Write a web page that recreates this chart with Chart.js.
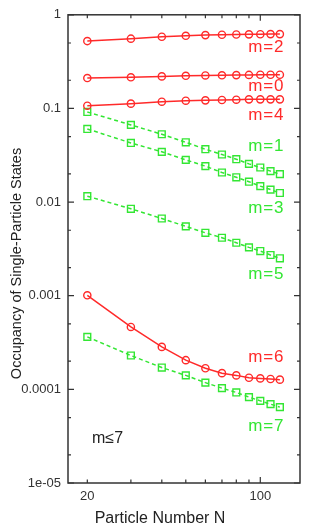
<!DOCTYPE html>
<html>
<head>
<meta charset="utf-8">
<script src="https://cdn.jsdelivr.net/npm/chart.js@4.4.1/dist/chart.umd.min.js"></script>
<style>
html,body{margin:0;padding:0;background:#fff;}
#wrap{width:312px;height:531px;position:relative;}
</style>
</head>
<body>
<div id="wrap"><canvas id="c" width="312" height="531"></canvas></div>
<script>
// ---- data ----
const N = [20, 30, 40, 50, 60, 70, 80, 90, 100, 110, 120];
const m2 = [0.524, 0.556, 0.583, 0.597, 0.607, 0.612, 0.616, 0.618, 0.620, 0.622, 0.622];
const m0 = [0.211, 0.215, 0.220, 0.223, 0.225, 0.226, 0.227, 0.228, 0.229, 0.229, 0.229];
const m4 = [0.107, 0.1125, 0.118, 0.121, 0.122, 0.123, 0.124, 0.125, 0.125, 0.125, 0.125];
const m6 = [0.00101, 0.000464, 0.000284, 0.000205, 0.000168, 0.000149, 0.000141, 0.000133, 0.000131, 0.000129, 0.000127];
const m1 = [0.0917, 0.0667, 0.0530, 0.0435, 0.0367, 0.0322, 0.0287, 0.0256, 0.0234, 0.0214, 0.0199];
const m3 = [0.0604, 0.0428, 0.0344, 0.0282, 0.0242, 0.0207, 0.0184, 0.0165, 0.0148, 0.0136, 0.0125];
const m5 = [0.01156, 0.00848, 0.00668, 0.0055, 0.0047, 0.00416, 0.00368, 0.00328, 0.0030, 0.00272, 0.00251];
const m7 = [0.000363, 0.00023, 0.000171, 0.000141, 0.000118, 0.000103, 0.0000927, 0.0000826, 0.0000754, 0.0000695, 0.0000646];

const xTickLabels = [20, 100];
const xTickMarks = [20, 30, 40, 50, 60, 70, 80, 90, 100];
const yTickLabels = [1, 0.1, 0.01, 0.001, 0.0001, 0.00001];
const yTickTexts = ['1', '0.1', '0.01', '0.001', '0.0001', '1e-05'];
const yMinorMarks = [0.5, 0.2, 0.05, 0.02, 0.005, 0.002, 0.0005, 0.0002, 0.00005, 0.00002];

const seriesNames = ['m=2', 'm=0', 'm=4', 'm=6', 'm=1', 'm=3', 'm=5', 'm=7'];
const seriesOdd = [false, false, false, false, true, true, true, true];
const seriesValues = [m2, m0, m4, m6, m1, m3, m5, m7];
// annotation anchors (data coords) for the curve labels
const labelN = 124;
const labelValues = [0.445, 0.171, 0.0853, 0.000222, 0.0394, 0.0086, 0.0017, 0.0000405];
const noteText = 'm≤7';
const noteN = 20.9;
const noteValue = 0.00003;

const xTitle = 'Particle Number N';
const yTitle = 'Occupancy of Single-Particle States';

// ---- styles ----
const RED = '#ff2a2a';
const GREEN = '#33e633';
const AXIS = '#333333';
const FONT = "'Liberation Sans', Arial, sans-serif";

const datasets = seriesNames.map((name, i) => ({
  label: name,
  data: N.map((n, j) => ({x: n, y: seriesValues[i][j]})),
  borderColor: seriesOdd[i] ? GREEN : RED,
  backgroundColor: 'rgba(0,0,0,0)',
  borderWidth: 1.5,
  borderDash: seriesOdd[i] ? [4, 3] : [],
  pointStyle: seriesOdd[i] ? 'rect' : 'circle',
  pointRadius: seriesOdd[i] ? 4.8 : 3.6,
  pointBorderWidth: 1.4,
  pointBorderColor: seriesOdd[i] ? GREEN : RED,
  pointBackgroundColor: 'rgba(0,0,0,0)',
  tension: 0,
  fill: false
}));

const decor = {
  id: 'decor',
  afterDraw(chart) {
    const ctx = chart.ctx;
    const a = chart.chartArea;
    const xs = chart.scales.x, ys = chart.scales.y;
    ctx.save();
    // frame
    ctx.strokeStyle = AXIS;
    ctx.lineWidth = 1.5;
    ctx.strokeRect(a.left, a.top, a.right - a.left, a.bottom - a.top);
    // x ticks (inside, bottom & top)
    ctx.lineWidth = 1.2;
    ctx.beginPath();
    xTickMarks.forEach(v => {
      const px = xs.getPixelForValue(v);
      const len = (v === 100) ? 6 : 3.5;
      ctx.moveTo(px, a.bottom); ctx.lineTo(px, a.bottom - len);
      ctx.moveTo(px, a.top); ctx.lineTo(px, a.top + len);
    });
    // y ticks (inside, left & right)
    yTickLabels.forEach(v => {
      const py = ys.getPixelForValue(v);
      ctx.moveTo(a.left, py); ctx.lineTo(a.left + 6, py);
      ctx.moveTo(a.right, py); ctx.lineTo(a.right - 6, py);
    });
    yMinorMarks.forEach(v => {
      const py = ys.getPixelForValue(v);
      ctx.moveTo(a.left, py); ctx.lineTo(a.left + 3, py);
      ctx.moveTo(a.right, py); ctx.lineTo(a.right - 3, py);
    });
    ctx.stroke();

    // curve labels
    ctx.font = '17px ' + FONT;
    ctx.textAlign = 'right';
    ctx.textBaseline = 'middle';
    if ('letterSpacing' in ctx) ctx.letterSpacing = '0.8px';
    seriesNames.forEach((name, i) => {
      ctx.fillStyle = seriesOdd[i] ? GREEN : RED;
      ctx.fillText(name, xs.getPixelForValue(labelN) + 0.8, ys.getPixelForValue(labelValues[i]));
    });
    if ('letterSpacing' in ctx) ctx.letterSpacing = '0px';
    ctx.fillStyle = '#222';
    ctx.font = '16px ' + FONT;
    ctx.textAlign = 'left';
    ctx.fillText(noteText, xs.getPixelForValue(noteN), ys.getPixelForValue(noteValue));

    // axis titles
    ctx.fillStyle = '#222';
    ctx.font = '16px ' + FONT;
    ctx.textAlign = 'center';
    ctx.textBaseline = 'alphabetic';
    ctx.fillText(xTitle, 160, 523);
    ctx.translate(20.7, 263.5);
    ctx.rotate(-Math.PI / 2);
    ctx.font = '14.5px ' + FONT;
    ctx.fillText(yTitle, 0, 0);
    ctx.restore();
  }
};

new Chart(document.getElementById('c'), {
  type: 'line',
  data: {datasets},
  plugins: [decor],
  options: {
    responsive: false,
    animation: false,
    events: [],
    layout: {padding: {top: 14, right: 12, left: 0, bottom: 0}},
    plugins: {legend: {display: false}, tooltip: {enabled: false}, title: {display: false}},
    scales: {
      x: {
        type: 'logarithmic',
        min: 16.71, max: 144.7,
        grid: {display: false, drawTicks: false},
        border: {display: false},
        afterBuildTicks: s => { s.ticks = xTickLabels.map(v => ({value: v})); },
        afterFit: s => { s.height = 48; },
        ticks: {
          autoSkip: false, maxRotation: 0, padding: 6,
          color: AXIS, font: {family: FONT, size: 13},
          callback: v => String(v)
        }
      },
      y: {
        type: 'logarithmic',
        min: 0.00001, max: 1,
        grid: {display: false, drawTicks: false},
        border: {display: false},
        afterBuildTicks: s => { s.ticks = yTickLabels.map(v => ({value: v})); },
        afterFit: s => { s.width = 68; },
        ticks: {
          autoSkip: false, padding: 7,
          color: AXIS, font: {family: FONT, size: 13},
          callback: (v) => { const k = yTickLabels.findIndex(t => Math.abs(t - v) / t < 1e-6); return k >= 0 ? yTickTexts[k] : ''; }
        }
      }
    }
  }
});
</script>
</body>
</html>
